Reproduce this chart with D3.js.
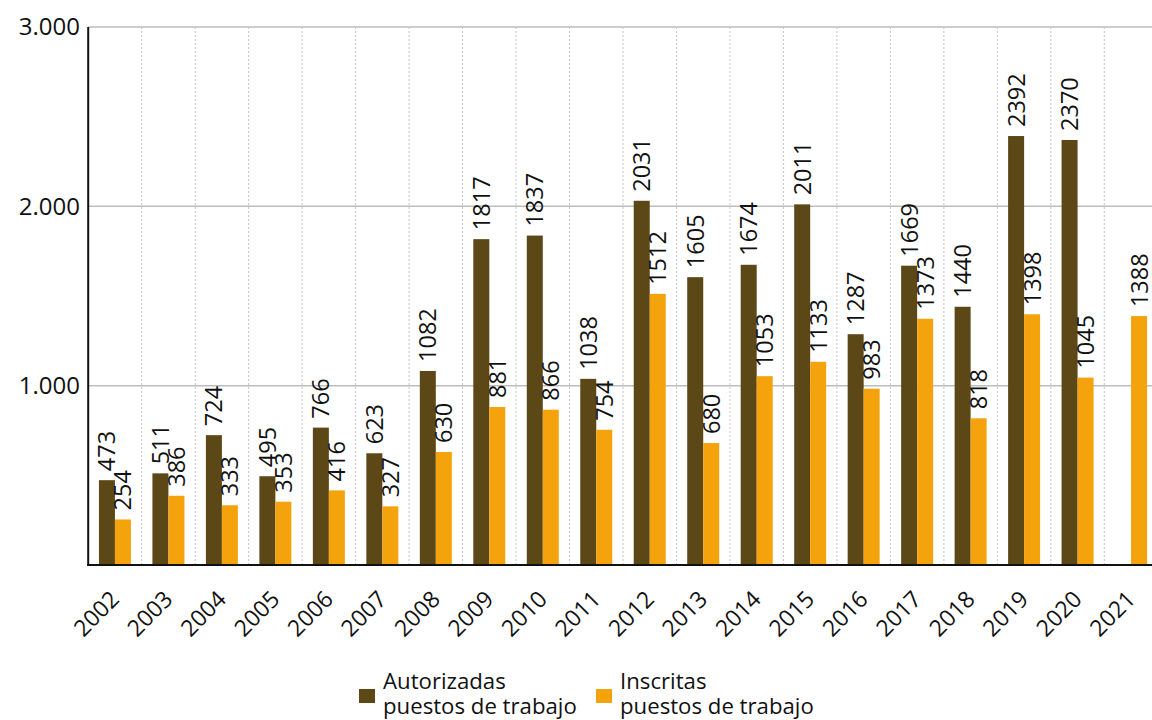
<!DOCTYPE html>
<html><head><meta charset="utf-8">
<script src="https://cdn.jsdelivr.net/npm/d3@7"></script>
<style>body{margin:0;background:#fff;overflow:hidden}svg{display:block}text{font-family:"Open Sans",sans-serif;fill:#111}</style>
</head><body>
<script>
const years = ["2002","2003","2004","2005","2006","2007","2008","2009","2010","2011","2012","2013","2014","2015","2016","2017","2018","2019","2020","2021"];
const autorizadas = [473,511,724,495,766,623,1082,1817,1837,1038,2031,1605,1674,2011,1287,1669,1440,2392,2370,null];
const inscritas = [254,386,333,353,416,327,630,881,866,754,1512,680,1053,1133,983,1373,818,1398,1045,1388];
const seriesNames = ["Autorizadas\npuestos de trabajo","Inscritas\npuestos de trabajo"];
const colors = ["#5c4717","#f5a30c"];
const yTicks = [1000,2000,3000];

(function(){
const W=1152,H=720;
const svg=d3.select("body").append("svg").attr("width",W).attr("height",H);
const pL=88.2, pR=1157.8, pT=27, pB=565;
const x=d3.scaleBand().domain(years).range([pL,pR]).paddingInner(0).paddingOuter(0);
const y=d3.scaleLinear().domain([0,3000]).range([pB,pT]);
const fmt=d=>d3.format(",")(d).replace(/,/g,".");

svg.append("g").selectAll("line").data(yTicks).join("line")
  .attr("x1",pL).attr("x2",W).attr("y1",d=>y(d)).attr("y2",d=>y(d))
  .attr("stroke","#bdbdbd").attr("stroke-width",1.5);
svg.append("g").selectAll("line").data(years.slice(1)).join("line")
  .attr("x1",d=>x(d)).attr("x2",d=>x(d)).attr("y1",pT).attr("y2",pB)
  .attr("stroke","#c4c4c4").attr("stroke-width",1).attr("stroke-dasharray","2,2");

const barW=16;
const sub=d3.scaleBand().domain([0,1]).range([0,barW*2]);
const data=years.map((yr,i)=>({yr,vals:[autorizadas[i],inscritas[i]]}));
const g=svg.append("g");
data.forEach(d=>{
  const x0=x(d.yr)+x.bandwidth()/2-barW;
  d.vals.forEach((v,k)=>{
    if(v==null) return;
    g.append("rect").attr("x",x0+sub(k)).attr("y",y(v)).attr("width",barW).attr("height",pB-y(v)).attr("fill",colors[k]);
  });
});
data.forEach(d=>{
  const x0=x(d.yr)+x.bandwidth()/2-barW;
  d.vals.forEach((v,k)=>{
    if(v==null) return;
    const cx=x0+sub(k)+barW/2;
    g.append("text").attr("transform",`translate(${cx},${y(v)-9}) rotate(-90)`)
      .attr("dy","0.36em").attr("font-size",23.5).text(v);
  });
});

svg.append("line").attr("x1",pL).attr("x2",pL).attr("y1",pT).attr("y2",pB+1).attr("stroke","#111").attr("stroke-width",2);
svg.append("line").attr("x1",pL-1).attr("x2",W).attr("y1",pB).attr("y2",pB).attr("stroke","#111").attr("stroke-width",2);

svg.append("g").selectAll("text").data(yTicks).join("text")
  .attr("x",80).attr("y",d=>y(d)).attr("dy","0.35em").attr("text-anchor","end").attr("font-size",24).text(fmt);

svg.append("g").selectAll("text").data(years).join("text")
  .attr("transform",d=>`translate(${x(d)+x.bandwidth()/2},${pB+30}) rotate(-45)`)
  .attr("text-anchor","end").attr("dy","0.35em").attr("font-size",23).text(d=>d);

const leg=[{x:359,tx:383},{x:596,tx:620}];
seriesNames.forEach((n,k)=>{
  svg.append("rect").attr("x",leg[k].x).attr("y",689).attr("width",16).attr("height",14).attr("fill",colors[k]);
  n.split("\n").forEach((l,j)=>{
    svg.append("text").attr("x",leg[k].tx).attr("y",689+j*25).attr("font-size",22.2).text(l);
  });
});
})();
</script>
</body></html>
